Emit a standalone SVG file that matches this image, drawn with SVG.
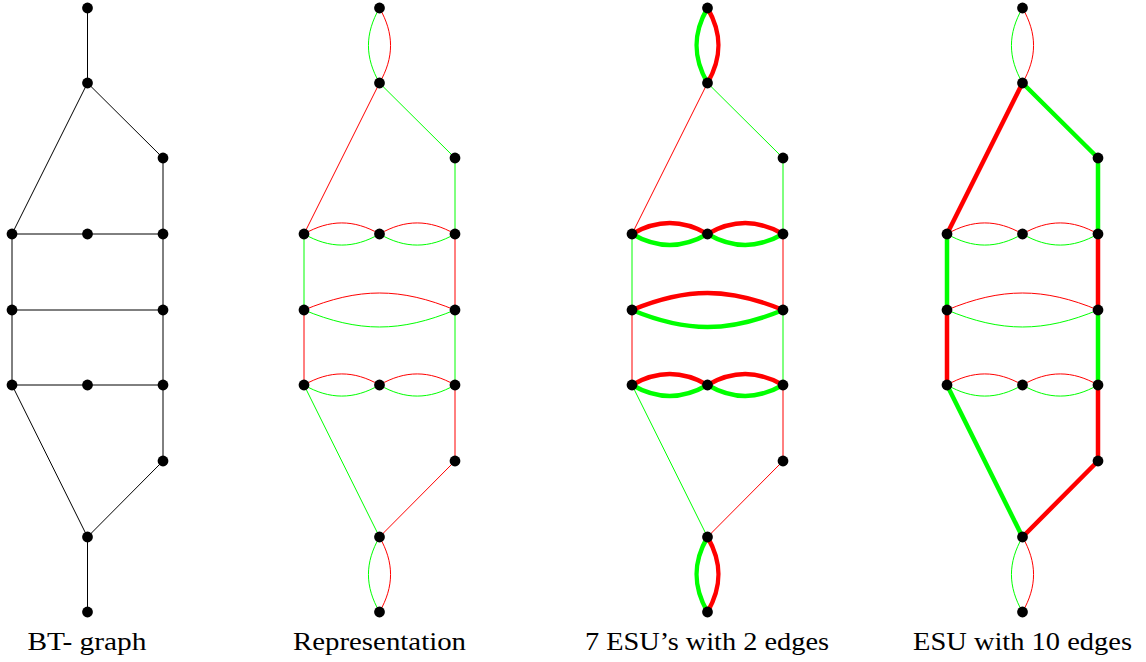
<svg xmlns="http://www.w3.org/2000/svg" width="1146" height="662" viewBox="0 0 1146 662">
<g id="labels" font-size="26" fill="#000" text-anchor="middle">
<text x="87" y="650" font-family="Liberation Serif" textLength="119" lengthAdjust="spacingAndGlyphs">BT- graph</text>
<text x="379.5" y="650" font-family="Liberation Serif" textLength="173" lengthAdjust="spacingAndGlyphs">Representation</text>
<text x="707" y="650" font-family="Liberation Serif" textLength="244" lengthAdjust="spacingAndGlyphs">7 ESU’s with 2 edges</text>
<text x="1022.5" y="650" font-family="Liberation Serif" textLength="219" lengthAdjust="spacingAndGlyphs">ESU with 10 edges</text>
</g>

<g id="bt-graph" transform="translate(12,0)">
<g id="bt-connectors" fill="none" stroke="#000" stroke-width="1" stroke-linecap="round">
<line x1="75.5" y1="8" x2="75.5" y2="83"/>
<line x1="75.5" y1="83" x2="0" y2="234"/>
<line x1="75.5" y1="83" x2="151" y2="158"/>
<line x1="151" y1="158" x2="151" y2="234"/>
<line x1="0" y1="234" x2="151" y2="234"/>
<line x1="0" y1="234" x2="0" y2="385"/>
<line x1="151" y1="234" x2="151" y2="461"/>
<line x1="0" y1="310" x2="151" y2="310"/>
<line x1="0" y1="385" x2="151" y2="385"/>
<line x1="0" y1="385" x2="75.5" y2="537"/>
<line x1="151" y1="461" x2="75.5" y2="537"/>
<line x1="75.5" y1="537" x2="75.5" y2="612"/>
</g>
<g id="bt-nodes" fill="#000">
<g id="a1"><circle cx="75.5" cy="8" r="5.4"/></g>
<g id="a2"><circle cx="75.5" cy="83" r="5.4"/></g>
<g id="a3"><circle cx="151" cy="158" r="5.4"/></g>
<g id="a4"><circle cx="0" cy="234" r="5.4"/></g>
<g id="a5"><circle cx="75.5" cy="234" r="5.4"/></g>
<g id="a6"><circle cx="151" cy="234" r="5.4"/></g>
<g id="a7"><circle cx="0" cy="310" r="5.4"/></g>
<g id="a8"><circle cx="151" cy="310" r="5.4"/></g>
<g id="a9"><circle cx="0" cy="385" r="5.4"/></g>
<g id="a10"><circle cx="75.5" cy="385" r="5.4"/></g>
<g id="a11"><circle cx="151" cy="385" r="5.4"/></g>
<g id="a12"><circle cx="151" cy="461" r="5.4"/></g>
<g id="a13"><circle cx="75.5" cy="537" r="5.4"/></g>
<g id="a14"><circle cx="75.5" cy="612" r="5.4"/></g>
</g>
</g>

<g id="representation" transform="translate(304,0)">
<g id="rep-connectors" fill="none" stroke-width="1" stroke-linecap="round">
<g stroke="#00ff00">
<path d="M75.5,8 C60.7,33.6 60.7,57.4 75.5,83"/>
<line x1="75.5" y1="83" x2="151" y2="158"/>
<line x1="151" y1="158" x2="151" y2="234"/>
<path d="M0,234 C25.6,248.8 49.9,248.8 75.5,234 C101.1,248.8 125.4,248.8 151,234"/>
<line x1="0" y1="234" x2="0" y2="310"/>
<path d="M0,310 C54.6,332.7 96.4,332.7 151,310"/>
<line x1="151" y1="310" x2="151" y2="385"/>
<path d="M0,385 C25.6,399.8 49.9,399.8 75.5,385 C101.1,399.8 125.4,399.8 151,385"/>
<line x1="0" y1="385" x2="75.5" y2="537"/>
<path d="M75.5,537 C60.7,562.6 60.7,586.4 75.5,612"/>
</g>
<g stroke="#ff0000">
<path d="M75.5,8 C90.3,33.6 90.3,57.4 75.5,83"/>
<line x1="75.5" y1="83" x2="0" y2="234"/>
<path d="M0,234 C25.6,219.2 49.9,219.2 75.5,234 C101.1,219.2 125.4,219.2 151,234"/>
<line x1="151" y1="234" x2="151" y2="310"/>
<path d="M0,310 C54.6,287.3 96.4,287.3 151,310"/>
<line x1="0" y1="310" x2="0" y2="385"/>
<path d="M0,385 C25.6,370.2 49.9,370.2 75.5,385 C101.1,370.2 125.4,370.2 151,385"/>
<line x1="151" y1="385" x2="151" y2="461"/>
<line x1="151" y1="461" x2="75.5" y2="537"/>
<path d="M75.5,537 C90.3,562.6 90.3,586.4 75.5,612"/>
</g>
</g>
<g id="rep-nodes" fill="#000">
<g id="b1"><circle cx="75.5" cy="8" r="5.4"/></g>
<g id="b2"><circle cx="75.5" cy="83" r="5.4"/></g>
<g id="b3"><circle cx="151" cy="158" r="5.4"/></g>
<g id="b4"><circle cx="0" cy="234" r="5.4"/></g>
<g id="b5"><circle cx="75.5" cy="234" r="5.4"/></g>
<g id="b6"><circle cx="151" cy="234" r="5.4"/></g>
<g id="b7"><circle cx="0" cy="310" r="5.4"/></g>
<g id="b8"><circle cx="151" cy="310" r="5.4"/></g>
<g id="b9"><circle cx="0" cy="385" r="5.4"/></g>
<g id="b10"><circle cx="75.5" cy="385" r="5.4"/></g>
<g id="b11"><circle cx="151" cy="385" r="5.4"/></g>
<g id="b12"><circle cx="151" cy="461" r="5.4"/></g>
<g id="b13"><circle cx="75.5" cy="537" r="5.4"/></g>
<g id="b14"><circle cx="75.5" cy="612" r="5.4"/></g>
</g>
</g>

<g id="esu-2-edges" transform="translate(632,0)">
<g id="esu2-connectors" fill="none" stroke-linecap="round">
<g stroke="#00ff00" stroke-width="1">
<line x1="75.5" y1="83" x2="151" y2="158"/>
<line x1="151" y1="158" x2="151" y2="234"/>
<line x1="0" y1="234" x2="0" y2="310"/>
<line x1="151" y1="310" x2="151" y2="385"/>
<line x1="0" y1="385" x2="75.5" y2="537"/>
</g>
<g stroke="#ff0000" stroke-width="1">
<line x1="75.5" y1="83" x2="0" y2="234"/>
<line x1="151" y1="234" x2="151" y2="310"/>
<line x1="0" y1="310" x2="0" y2="385"/>
<line x1="151" y1="385" x2="151" y2="461"/>
<line x1="151" y1="461" x2="75.5" y2="537"/>
</g>
<g stroke="#00ff00" stroke-width="4.5">
<path d="M75.5,8 C60.7,33.6 60.7,57.4 75.5,83"/>
<path d="M0,234 C25.6,248.8 49.9,248.8 75.5,234 C101.1,248.8 125.4,248.8 151,234"/>
<path d="M0,310 C54.6,332.7 96.4,332.7 151,310"/>
<path d="M0,385 C25.6,399.8 49.9,399.8 75.5,385 C101.1,399.8 125.4,399.8 151,385"/>
<path d="M75.5,537 C60.7,562.6 60.7,586.4 75.5,612"/>
</g>
<g stroke="#ff0000" stroke-width="4.5">
<path d="M75.5,8 C90.3,33.6 90.3,57.4 75.5,83"/>
<path d="M0,234 C25.6,219.2 49.9,219.2 75.5,234 C101.1,219.2 125.4,219.2 151,234"/>
<path d="M0,310 C54.6,287.3 96.4,287.3 151,310"/>
<path d="M0,385 C25.6,370.2 49.9,370.2 75.5,385 C101.1,370.2 125.4,370.2 151,385"/>
<path d="M75.5,537 C90.3,562.6 90.3,586.4 75.5,612"/>
</g>
</g>
<g id="esu2-nodes" fill="#000">
<g id="c1"><circle cx="75.5" cy="8" r="5.4"/></g>
<g id="c2"><circle cx="75.5" cy="83" r="5.4"/></g>
<g id="c3"><circle cx="151" cy="158" r="5.4"/></g>
<g id="c4"><circle cx="0" cy="234" r="5.4"/></g>
<g id="c5"><circle cx="75.5" cy="234" r="5.4"/></g>
<g id="c6"><circle cx="151" cy="234" r="5.4"/></g>
<g id="c7"><circle cx="0" cy="310" r="5.4"/></g>
<g id="c8"><circle cx="151" cy="310" r="5.4"/></g>
<g id="c9"><circle cx="0" cy="385" r="5.4"/></g>
<g id="c10"><circle cx="75.5" cy="385" r="5.4"/></g>
<g id="c11"><circle cx="151" cy="385" r="5.4"/></g>
<g id="c12"><circle cx="151" cy="461" r="5.4"/></g>
<g id="c13"><circle cx="75.5" cy="537" r="5.4"/></g>
<g id="c14"><circle cx="75.5" cy="612" r="5.4"/></g>
</g>
</g>

<g id="esu-10-edges" transform="translate(947,0)">
<g id="esu10-connectors" fill="none" stroke-linecap="round">
<g stroke="#00ff00" stroke-width="1">
<path d="M75.5,8 C60.7,33.6 60.7,57.4 75.5,83"/>
<path d="M0,234 C25.6,248.8 49.9,248.8 75.5,234 C101.1,248.8 125.4,248.8 151,234"/>
<path d="M0,310 C54.6,332.7 96.4,332.7 151,310"/>
<path d="M0,385 C25.6,399.8 49.9,399.8 75.5,385 C101.1,399.8 125.4,399.8 151,385"/>
<path d="M75.5,537 C60.7,562.6 60.7,586.4 75.5,612"/>
</g>
<g stroke="#ff0000" stroke-width="1">
<path d="M75.5,8 C90.3,33.6 90.3,57.4 75.5,83"/>
<path d="M0,234 C25.6,219.2 49.9,219.2 75.5,234 C101.1,219.2 125.4,219.2 151,234"/>
<path d="M0,310 C54.6,287.3 96.4,287.3 151,310"/>
<path d="M0,385 C25.6,370.2 49.9,370.2 75.5,385 C101.1,370.2 125.4,370.2 151,385"/>
<path d="M75.5,537 C90.3,562.6 90.3,586.4 75.5,612"/>
</g>
<g stroke="#00ff00" stroke-width="4.5">
<line x1="75.5" y1="83" x2="151" y2="158"/>
<line x1="151" y1="158" x2="151" y2="234"/>
<line x1="0" y1="234" x2="0" y2="310"/>
<line x1="151" y1="310" x2="151" y2="385"/>
<line x1="0" y1="385" x2="75.5" y2="537"/>
</g>
<g stroke="#ff0000" stroke-width="4.5">
<line x1="75.5" y1="83" x2="0" y2="234"/>
<line x1="151" y1="234" x2="151" y2="310"/>
<line x1="0" y1="310" x2="0" y2="385"/>
<line x1="151" y1="385" x2="151" y2="461"/>
<line x1="151" y1="461" x2="75.5" y2="537"/>
</g>
</g>
<g id="esu10-nodes" fill="#000">
<g id="d1"><circle cx="75.5" cy="8" r="5.4"/></g>
<g id="d2"><circle cx="75.5" cy="83" r="5.4"/></g>
<g id="d3"><circle cx="151" cy="158" r="5.4"/></g>
<g id="d4"><circle cx="0" cy="234" r="5.4"/></g>
<g id="d5"><circle cx="75.5" cy="234" r="5.4"/></g>
<g id="d6"><circle cx="151" cy="234" r="5.4"/></g>
<g id="d7"><circle cx="0" cy="310" r="5.4"/></g>
<g id="d8"><circle cx="151" cy="310" r="5.4"/></g>
<g id="d9"><circle cx="0" cy="385" r="5.4"/></g>
<g id="d10"><circle cx="75.5" cy="385" r="5.4"/></g>
<g id="d11"><circle cx="151" cy="385" r="5.4"/></g>
<g id="d12"><circle cx="151" cy="461" r="5.4"/></g>
<g id="d13"><circle cx="75.5" cy="537" r="5.4"/></g>
<g id="d14"><circle cx="75.5" cy="612" r="5.4"/></g>
</g>
</g>
</svg>
